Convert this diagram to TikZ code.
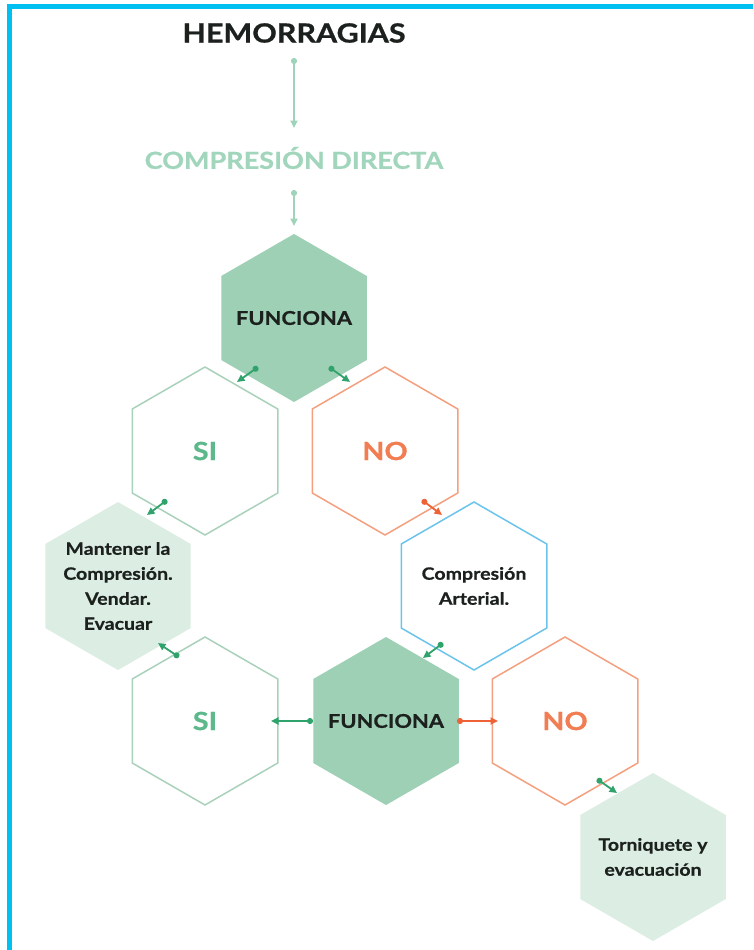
\documentclass[tikz,border=0pt]{standalone}
\usepackage{fontspec}
\setmainfont{Lato}[FakeStretch=1.15, BoldFeatures={FakeBold=0.7}]
\usetikzlibrary{shapes.geometric,arrows.meta,calc}
\definecolor{cyanb}{HTML}{00C0F2}
\definecolor{dkfill}{HTML}{9DD0B5}
\definecolor{ltfill}{HTML}{DCEEE3}
\definecolor{cdtext}{HTML}{A2D6BC}
\definecolor{sitext}{HTML}{5DB98C}
\definecolor{notext}{HTML}{F27D52}
\definecolor{sidraw}{HTML}{A9D1BB}
\definecolor{nodraw}{HTML}{F4A07F}
\definecolor{cadraw}{HTML}{6CC4EC}
\definecolor{garr}{HTML}{2FA36B}
\definecolor{oarr}{HTML}{EE6236}
\definecolor{tarr}{HTML}{9FD3BA}
\definecolor{ink}{HTML}{1C211E}
\tikzset{
  hexbase/.style={regular polygon, regular polygon sides=6, shape border rotate=30,
    minimum size=168pt, inner sep=0pt, line width=1.5pt},
  hexdark/.style={hexbase, fill=dkfill, draw=none},
  hexlight/.style={hexbase, fill=ltfill, draw=none},
  hexsi/.style={hexbase, draw=sidraw, fill=white},
  hexno/.style={hexbase, draw=nodraw, fill=white},
  hexca/.style={hexbase, draw=cadraw, fill=white},
  body/.style={font=\bfseries\fontsize{17}{25}\selectfont, text=ink, align=center},
  bigword/.style={font=\bfseries\fontsize{19}{22}\selectfont, text=ink},
  yesno/.style={font=\bfseries\fontsize{25}{28}\selectfont},
  conn/.style={line width=1.8pt, {Circle[length=6pt]}-{Triangle[length=7.5pt,width=7pt]}},
  garrow/.style={conn, draw=garr, color=garr},
  oarrow/.style={conn, draw=oarr, color=oarr},
  tarrow/.style={conn, draw=tarr, color=tarr},
}
\begin{document}
\begin{tikzpicture}[x=1pt,y=-1pt]
\useasboundingbox (0,0) rectangle (753,950);
\fill[white] (0,0) rectangle (753,950);
% border
\fill[cyanb] (7,4) rectangle (753,9);
\fill[cyanb] (7,4) rectangle (12,950);

% titles
\node[font=\bfseries\fontsize{26.5}{30}\selectfont, text=ink] (title) at (294,33) {HEMORRAGIAS};
\node[font=\bfseries\fontsize{23.5}{26}\selectfont, text=cdtext] (cd) at (294,158) {COMPRESIÓN DIRECTA};

% hexagons
\node[hexdark] (f1) at (294,318) {};
\node[hexsi] (si1) at (205,451) {};
\node[hexno] (no1) at (385,451) {};
\node[hexlight] (mant) at (118,586) {};
\node[hexca] (ca) at (474,586) {};
\node[hexsi] (si2) at (205,721) {};
\node[hexdark] (f2) at (386,721) {};
\node[hexno] (no2) at (565,721) {};
\node[hexlight] (torn) at (653,857) {};

% texts
\node[bigword] (f1t) at (f1) {FUNCIONA};
\node[yesno, text=sitext] (si1t) at (si1) {SI};
\node[yesno, text=notext] (no1t) at (no1) {NO};
\node[body] (mantt) at (mant) {Mantener la\\Compresión.\\Vendar.\\Evacuar};
\node[body] (cat) at (ca) {Compresión\\Arterial.};
\node[yesno, text=sitext] (si2t) at (si2) {SI};
\node[bigword] (f2t) at (f2) {FUNCIONA};
\node[yesno, text=notext] (no2t) at (no2) {NO};
\node[body] (tornt) at (torn) {Torniquete y\\evacuación};

% connectors
\draw[tarrow] ($(title)+(0,25)$) -- ($(cd)+(0,-30)$);
\draw[tarrow] ($(cd)+(0,32)$) -- ($(f1)+(0,-92)$);
\draw[garrow] ($(f1)+(-36,49)$) -- ($(f1)+(-57,64)$);
\draw[garrow] ($(f1)+(35,49)$) -- ($(f1)+(56,64)$);
\draw[garrow] ($(si1)+(-38,49)$) -- ($(si1)+(-58,64)$);
\draw[oarrow] ($(no1)+(37,49)$) -- ($(no1)+(57,64)$);
\draw[garrow] ($(si2)+(-26,-64)$) -- ($(si2)+(-47,-78)$);
\draw[garrow] ($(ca)+(-31,57)$) -- ($(ca)+(-51,72)$);
\draw[garrow] ($(f2)+(-73,0)$) -- ($(f2)+(-115,0)$);
\draw[oarrow] ($(f2)+(71,0)$) -- ($(f2)+(112,0)$);
\draw[garrow] ($(no2)+(32,58)$) -- ($(no2)+(52,72)$);
\end{tikzpicture}
\end{document}
